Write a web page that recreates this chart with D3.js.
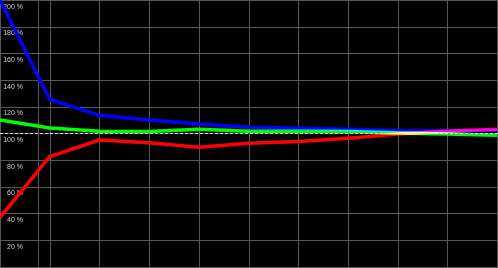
<!DOCTYPE html>
<html><head><meta charset="utf-8">
<script src="https://cdn.jsdelivr.net/npm/d3@7"></script>
<style>
html,body{margin:0;padding:0;background:#000;overflow:hidden}
svg{display:block}
</style></head>
<body>
<svg id="chart" width="498" height="268"></svg>
<script>
const categories = [0,1,2,3,4,5,6,7,8,9,10];
const blueValues  = [200,125.5,113.5,110,107,104.5,103.8,103,102,101.8,102.3];
const greenValues = [110,104,101.5,101.3,103,101.5,101.5,101.3,100.2,99.6,98.5];
const redValues   = [37,82.5,95,93,89.5,92.5,93.8,96.3,99.5,101.6,103];
const yTicks = [20,40,60,80,100,120,140,160,180,200];
const yTickLabels = ["20 %","40 %","60 %","80 %","100 %","120 %","140 %","160 %","180 %","200 %"];
const extraGrid = [0.76];
const refValue = 100;

const W = 498, H = 268;
const svg = d3.select("#chart");
const x = d3.scaleLinear().domain([0,10]).range([0,497]);
const y = d3.scaleLinear().domain([0,200]).range([266.7,0]);

svg.append("rect").attr("width",W).attr("height",H).attr("fill","#000");

const grid = svg.append("g").attr("stroke","#585858").attr("stroke-width",1).attr("shape-rendering","crispEdges");
categories.concat(extraGrid).forEach(c=>{
  const px = Math.round(x(c))+0.5;
  grid.append("line").attr("x1",px).attr("x2",px).attr("y1",0).attr("y2",H);
});
[0].concat(yTicks).forEach(v=>{
  const py = Math.round(y(v))+0.5;
  grid.append("line").attr("x1",0).attr("x2",W).attr("y1",py).attr("y2",py);
});

const labels = svg.append("g");
yTicks.forEach((v,i)=>{
  labels.append("text").attr("x",23).attr("y",y(v)+8.5)
    .attr("text-anchor","end").attr("fill","#d0d0d0")
    .attr("font-family","Liberation Sans, Arial, sans-serif").attr("font-size","7px")
    .text(yTickLabels[i]);
});

const line = d3.line().x((d,i)=>x(categories[i])).y(d=>y(d));
const series = [
  {vals: blueValues, color:"#0000ff"},
  {vals: greenValues, color:"#00ff00"},
  {vals: redValues, color:"#ff0000"}
];
const lg = svg.append("g").style("isolation","isolate");
series.forEach(s=>{
  lg.append("path").datum(s.vals).attr("d",line)
    .attr("fill","none").attr("stroke",s.color).attr("stroke-width",3.5)
    .attr("stroke-linejoin","round")
    .style("mix-blend-mode","screen");
});

svg.append("line").attr("x1",0).attr("x2",W)
  .attr("y1",Math.round(y(refValue))+0.5).attr("y2",Math.round(y(refValue))+0.5)
  .attr("stroke","#e0e0e0").attr("stroke-width",1).attr("stroke-dasharray","3,2")
  .attr("shape-rendering","crispEdges");
</script>
</body></html>
